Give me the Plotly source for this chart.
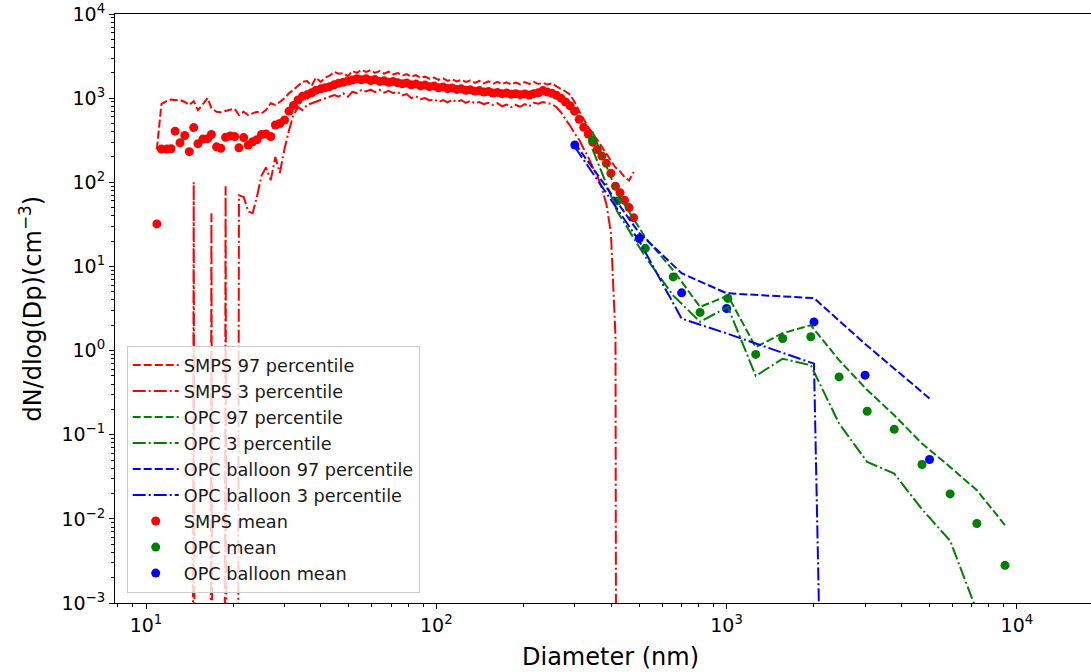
import plotly.graph_objects as go

# ---------------- SMPS (channel midpoints, nm) ----------------
smps_d = [
    10.9, 11.3, 11.8, 12.2, 12.6, 13.1, 13.6, 14.1, 14.6, 15.1,
    15.7, 16.3, 16.8, 17.5, 18.1, 18.8, 19.5, 20.2, 20.9, 21.7,
    22.5, 23.3, 24.1, 25.0, 25.9, 26.9, 27.9, 28.9, 30.0, 31.1,
    32.2, 33.4, 34.6, 35.9, 37.2, 38.5, 40.0, 41.4, 42.9, 44.5,
    46.1, 47.8, 49.6, 51.4, 53.3, 55.2, 57.3, 59.4, 61.5, 63.8,
    66.1, 68.5, 71.0, 73.7, 76.4, 79.1, 82.0, 85.1, 88.2, 91.4,
    94.7, 98.2, 101.8, 105.5, 109.4, 113.4, 117.6, 121.9, 126.3, 131.0,
    135.8, 140.7, 145.9, 151.2, 156.8, 162.5, 168.5, 174.7, 181.1, 187.7,
    194.6, 201.7, 209.1, 216.7, 224.7, 232.9, 241.4, 250.3, 259.5, 269.0,
    278.8, 289.0, 299.6, 310.6, 322.0, 333.8, 346.0, 358.7, 371.8, 385.4,
    399.5, 414.2, 429.4, 445.1, 461.4, 478.3,
]

smps_mean = [
    32, 248, 248, 250, 405, 295, 360, 231, 447, 288,
    326, 330, 370, 264, 253, 342, 355, 350, 257, 340,
    277, 303, 320, 370, 375, 350, 479, 500, 550, 700,
    820, 950, 1050, 1100, 1160, 1240, 1290, 1330, 1370, 1440,
    1500, 1540, 1600, 1640, 1700, 1650, 1700, 1620, 1660, 1580,
    1610, 1540, 1580, 1520, 1480, 1510, 1440, 1470, 1400, 1430,
    1370, 1390, 1330, 1360, 1300, 1320, 1270, 1290, 1240, 1260,
    1210, 1230, 1180, 1200, 1150, 1170, 1130, 1150, 1110, 1130,
    1100, 1120, 1090, 1130, 1160, 1230, 1180, 1140, 1080, 1000,
    900, 810, 700, 560, 450, 375, 300, 245, 205, 168,
    128, 90, 75, 61, 50, 38,
]

smps_p97 = [
    245, 850, 930, 960, 950, 950, 900, 830, 920, 720,
    850, 1000, 760, 690, 680, 700, 730, 750, 630, 690,
    630, 660, 690, 660, 720, 870, 830, 900, 1000, 1140,
    1250, 1400, 1560, 1600, 1400, 1750, 1560, 1750, 1850, 2050,
    1950, 1980, 1820, 2100, 2000, 2160, 2050, 2150, 2000, 2100,
    1950, 2060, 1920, 1990, 1850, 1930, 1800, 1880, 1750, 1800,
    1700, 1760, 1650, 1720, 1600, 1680, 1580, 1650, 1560, 1620,
    1520, 1600, 1500, 1580, 1480, 1560, 1470, 1540, 1450, 1530,
    1460, 1550, 1480, 1560, 1470, 1520, 1450, 1500, 1380, 1300,
    1200, 1100, 900, 700, 550, 450, 380, 320, 270, 220,
    180, 150, 135, 115, 105, 133,
]

# zero = no particles at that percentile
smps_p3 = [
    0, 0, 0, 0, 0, 0, 0, 0, 100, 0,
    0, 0, 43, 0, 0, 90, 0, 0, 70, 67,
    45, 43, 67, 120, 150, 106, 200, 129, 250, 417,
    630, 780, 720, 830, 870, 900, 950, 1000, 1040, 1090,
    1040, 1140, 1040, 1190, 1150, 1250, 1200, 1260, 1180, 1250,
    1160, 1220, 1150, 1180, 1080, 1120, 1000, 1050, 970, 1000,
    940, 970, 900, 950, 890, 960, 900, 950, 880, 930,
    870, 900, 850, 880, 830, 870, 800, 840, 780, 830,
    790, 850, 800, 880, 860, 900, 870, 850, 780, 680,
    560, 470, 380, 320, 250, 200, 150, 120, 85, 55,
    25, 1.5, 0, 0, 0, 0,
]

# ---------------- OPC (ground) ----------------
opc_d = [345, 420, 525, 655, 810, 1010, 1260, 1560, 1950, 2440, 3050, 3780, 4710, 5890, 7280, 9100]
opc_mean = [318, 60, 16.4, 7.5, 2.84, 4.17, 0.9, 1.39, 1.46, 0.486, 0.19, 0.116, 0.0443, 0.0198, 0.0088, 0.0028]
opc_p97 = [400, 75, 22, 9, 3.3, 4.5, 1.1, 1.61, 2.0, 0.77, 0.34, 0.17, 0.0785, 0.0414, 0.0219, 0.0084]
opc_p3 = [250, 45, 13, 4.5, 2.2, 3.3, 0.5, 0.8, 0.67, 0.136, 0.0475, 0.0345, 0.013, 0.0055, 0.0008, 0.0001]

# ---------------- OPC (balloon) ----------------
bal_d = [300, 500, 700, 1000, 2000, 3000, 5000]
bal_mean = [277, 21.5, 4.85, 3.16, 2.19, 0.51, 0.0507]
bal_p97 = [292, 25, 8.3, 4.8, 4.2, 1.2, 0.27]
bal_p3 = [263, 20, 2.4, 1.6, 0.7, 0, 0]

# decade tick labels
x_tickvals = [10, 100, 1000, 10000]
x_ticktext = ["10<sup>1</sup>", "10<sup>2</sup>", "10<sup>3</sup>", "10<sup>4</sup>"]
y_tickvals = [1e-3, 1e-2, 1e-1, 1e0, 1e1, 1e2, 1e3, 1e4]
y_ticktext = ["10<sup>\u22123</sup>", "10<sup>\u22122</sup>", "10<sup>\u22121</sup>",
              "10<sup>0</sup>", "10<sup>1</sup>", "10<sup>2</sup>",
              "10<sup>3</sup>", "10<sup>4</sup>"]

# Non-positive values are clipped far below the log axis so the line
# plunges straight down out of view instead of breaking.
FLOOR = 1e-30


def clip_log(vals):
    return [v if v > 0 else FLOOR for v in vals]


RED, GREEN, BLUE = "#ff0000", "#008000", "#0000ff"
DASHED = "8px,3px"
DASHDOT = "13px,3px,2px,3px"
FONT = "DejaVu Sans"

fig = go.Figure()

# means (drawn underneath the percentile lines)
for name, xs, ys, col, rank in [
    ("SMPS mean", smps_d, smps_mean, RED, 7),
    ("OPC mean", opc_d, opc_mean, GREEN, 8),
    ("OPC balloon mean", bal_d, bal_mean, BLUE, 9),
]:
    fig.add_trace(go.Scatter(
        x=xs, y=ys, mode="markers", name=name, legendrank=rank,
        marker=dict(color=col, size=9, line=dict(width=0)),
    ))

for name, xs, ys, col, dash, rank in [
    ("SMPS 97 percentile", smps_d, smps_p97, RED, DASHED, 1),
    ("SMPS 3 percentile", smps_d, smps_p3, RED, DASHDOT, 2),
    ("OPC 97 percentile", opc_d, opc_p97, GREEN, DASHED, 3),
    ("OPC 3 percentile", opc_d, opc_p3, GREEN, DASHDOT, 4),
    ("OPC balloon 97 percentile", bal_d, bal_p97, BLUE, DASHED, 5),
    ("OPC balloon 3 percentile", bal_d, bal_p3, BLUE, DASHDOT, 6),
]:
    fig.add_trace(go.Scatter(
        x=xs, y=clip_log(ys), mode="lines", name=name, legendrank=rank,
        line=dict(color=col, width=2, dash=dash),
    ))

axis_common = dict(
    type="log", showgrid=False, zeroline=False,
    showline=True, linecolor="black", linewidth=1,
    ticks="outside", ticklen=5, tickwidth=1, tickcolor="black",
    tickmode="array",
    tickfont=dict(family=FONT, size=19, color="black"),
    minor=dict(ticks="outside", ticklen=3, tickwidth=1, tickcolor="black",
               dtick="D1", showgrid=False),
)

fig.update_xaxes(range=[0.8932, 4.2553], mirror=True,
                 tickvals=x_tickvals, ticktext=x_ticktext, **axis_common)
fig.update_yaxes(range=[-3, 4], mirror=False,
                 tickvals=y_tickvals, ticktext=y_ticktext, **axis_common)

fig.update_layout(
    width=1091, height=672,
    margin=dict(l=115, r=0, t=14, b=69),
    paper_bgcolor="white", plot_bgcolor="white",
    font=dict(family=FONT, color="black"),
    legend=dict(
        x=0.012, y=0.017, xanchor="left", yanchor="bottom",
        bgcolor="rgba(255,255,255,0.8)", bordercolor="#cccccc", borderwidth=1,
        font=dict(family=FONT, size=17.7, color="#1a1a1a"),
        itemwidth=46, tracegroupgap=0,
    ),
    annotations=[
        dict(text="Diameter (nm)", xref="paper", yref="paper",
             x=0.508, y=-0.092, xanchor="center", yanchor="middle",
             showarrow=False, font=dict(family=FONT, size=24, color="black")),
        dict(text="dN/dlog(Dp)(cm<sup>\u22123</sup>)", xref="paper", yref="paper",
             x=-0.087, y=0.5, xanchor="center", yanchor="middle", textangle=-90,
             showarrow=False, font=dict(family=FONT, size=24, color="black")),
    ],
)

fig.write_html("out.html")
